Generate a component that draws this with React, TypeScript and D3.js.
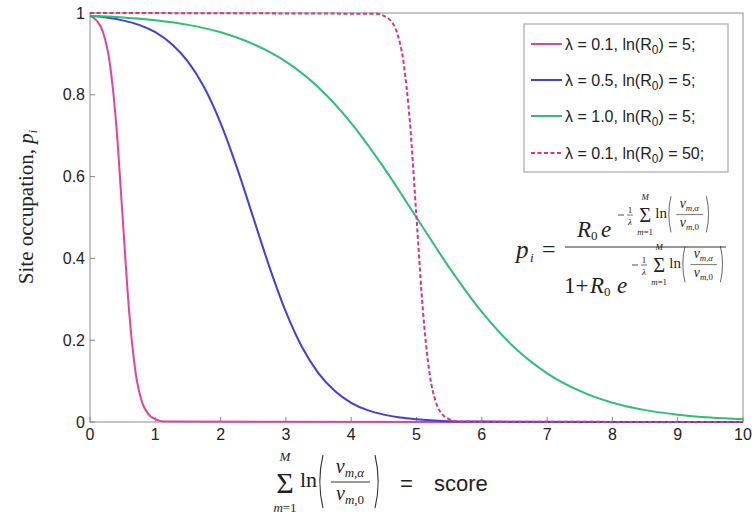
import React from 'react';
import * as d3 from 'd3';

// Score axis samples and site-occupation values for each curve
const scoreSteep = [0, 0.1, 0.2, 0.3, 0.4, 0.5, 0.6, 0.7, 0.8, 0.9, 1.0, 1.1, 1.2, 10];
const occLam01R5 = [0.993, 0.982, 0.953, 0.881, 0.731, 0.5, 0.269, 0.119, 0.047, 0.018, 0.007, 0.002, 0.001, 0];

const scoreMid = [0, 0.25, 0.5, 0.75, 1.0, 1.25, 1.5, 1.75, 2.0, 2.25, 2.5, 2.75, 3.0, 3.25, 3.5, 3.75, 4.0, 4.25, 4.5, 4.75, 5.0, 5.5, 6.0, 10];
const occLam05R5 = [0.993, 0.989, 0.982, 0.971, 0.953, 0.924, 0.881, 0.818, 0.731, 0.622, 0.5, 0.378, 0.269, 0.182, 0.119, 0.076, 0.047, 0.029, 0.018, 0.011, 0.007, 0.002, 0.001, 0];

const scoreWide = [0, 0.5, 1, 1.5, 2, 2.5, 3, 3.5, 4, 4.5, 5, 5.5, 6, 6.5, 7, 7.5, 8, 8.5, 9, 9.5, 10];
const occLam10R5 = [0.993, 0.989, 0.982, 0.971, 0.953, 0.924, 0.881, 0.818, 0.731, 0.622, 0.5, 0.378, 0.269, 0.182, 0.119, 0.076, 0.047, 0.029, 0.018, 0.011, 0.007];

const scoreShift = [0, 4.4, 4.5, 4.6, 4.7, 4.8, 4.9, 5.0, 5.1, 5.2, 5.3, 5.4, 5.5, 5.6, 5.7, 10];
const occLam01R50 = [1, 0.998, 0.993, 0.982, 0.953, 0.881, 0.731, 0.5, 0.269, 0.119, 0.047, 0.018, 0.007, 0.002, 0.001, 0];

const xTickValues = [0, 1, 2, 3, 4, 5, 6, 7, 8, 9, 10];
const yTickValues = [0, 0.2, 0.4, 0.6, 0.8, 1];
const yTickLabels = ['0', '0.2', '0.4', '0.6', '0.8', '1'];

const legendLambda = ['0.1', '0.5', '1.0', '0.1'];
const legendLnR0 = ['5', '5', '5', '50'];

const W = 755;
const H = 518;
const plot = { left: 90, right: 743, top: 13, bottom: 422 };

const SANS = "Arial, 'Liberation Sans', Helvetica, sans-serif";
const SERIF = "'Times New Roman', 'Liberation Serif', serif";

const series = [
  { xs: scoreSteep, ys: occLam01R5, color: '#e8409a', dash: null },
  { xs: scoreMid, ys: occLam05R5, color: '#3f3fe0', dash: null },
  { xs: scoreWide, ys: occLam10R5, color: '#2fbf70', dash: null },
  { xs: scoreShift, ys: occLam01R50, color: '#de3088', dash: '4 2.5' },
];

// Parenthesis drawn as a curved path
function Paren({ x, top, bottom, right, w }: { x: number; top: number; bottom: number; right?: boolean; w: number }) {
  const mid = (top + bottom) / 2;
  const d = right
    ? `M${x},${top} Q${x + w * 1.6},${mid} ${x},${bottom}`
    : `M${x},${top} Q${x - w * 1.6},${mid} ${x},${bottom}`;
  return <path d={d} fill="none" stroke="#333" strokeWidth={1.1} />;
}

// Sum over m of ln(v_{m,alpha} / v_{m,0}), with origin at left of the sigma, y = ln baseline
function SumLn({ x, y, k }: { x: number; y: number; k: number }) {
  return (
    <g transform={`translate(${x},${y}) scale(${k})`} fontFamily={SERIF} fill="#222">
      <text x={12} y={6} fontSize={30} textAnchor="middle">Σ</text>
      <text x={12} y={-26} fontSize={13} fontStyle="italic" textAnchor="middle">M</text>
      <text x={12} y={25} fontSize={13} textAnchor="middle">
        <tspan fontStyle="italic">m</tspan>=1
      </text>
      <text x={27} y={0} fontSize={22}>ln</text>
      <Paren x={50} top={-32} bottom={21} w={4} />
      <text x={77} y={-14} fontSize={20} textAnchor="middle">
        <tspan fontStyle="italic">v</tspan>
        <tspan fontSize={13} dy={4} fontStyle="italic">m</tspan>
        <tspan fontSize={13}>,</tspan>
        <tspan fontSize={13} fontStyle="italic">α</tspan>
      </text>
      <line x1={58} x2={97} y1={-5} y2={-5} stroke="#333" strokeWidth={1} />
      <text x={77} y={13} fontSize={20} textAnchor="middle">
        <tspan fontStyle="italic">v</tspan>
        <tspan fontSize={13} dy={4} fontStyle="italic">m</tspan>
        <tspan fontSize={13}>,0</tspan>
      </text>
      <Paren x={102} top={-32} bottom={21} w={4} right />
    </g>
  );
}

// Exponent: -(1/lambda) * SumLn
function Exponent({ x, y }: { x: number; y: number }) {
  return (
    <g fontFamily={SERIF} fill="#222">
      <line x1={x - 19} x2={x - 13} y1={y - 3} y2={y - 3} stroke="#333" strokeWidth={0.9} />
      <text x={x - 7} y={y - 5} fontSize={9} textAnchor="middle">1</text>
      <line x1={x - 10} x2={x - 4} y1={y - 3} y2={y - 3} stroke="#333" strokeWidth={0.7} />
      <text x={x - 7} y={y + 6.5} fontSize={9} fontStyle="italic" textAnchor="middle">λ</text>
      <SumLn x={x} y={y} k={0.68} />
    </g>
  );
}

export default function App() {
  const x = d3.scaleLinear().domain([0, 10]).range([plot.left, plot.right]);
  const y = d3.scaleLinear().domain([0, 1]).range([plot.bottom, plot.top]);

  const lineGen = (xs: number[], ys: number[]) =>
    d3
      .line<number>()
      .x((_, i) => x(xs[i]))
      .y((v) => y(v))
      .curve(d3.curveMonotoneX)(ys) as string;

  const legendX = 524;
  const legendY = 24;
  const legendW = 204;
  const legendH = 148;
  const rowY = [44, 80, 116, 153];

  return (
    <svg
      width={W}
      height={H}
      style={{ position: 'absolute', left: 0, top: 0, background: '#fff' }}
    >
      <rect x={0} y={0} width={W} height={H} fill="#fff" />

      {/* axes box */}
      <rect
        x={plot.left}
        y={plot.top}
        width={plot.right - plot.left}
        height={plot.bottom - plot.top}
        fill="none"
        stroke="#a8a8a8"
        strokeWidth={1.3}
      />

      {/* ticks */}
      {xTickValues.map((t) => (
        <line key={'xt' + t} x1={x(t)} x2={x(t)} y1={plot.bottom} y2={plot.bottom - 5} stroke="#888" strokeWidth={1} />
      ))}
      {yTickValues.map((t) => (
        <line key={'yt' + t} x1={plot.left} x2={plot.left + 5} y1={y(t)} y2={y(t)} stroke="#888" strokeWidth={1} />
      ))}

      {/* tick labels */}
      {xTickValues.map((t) => (
        <text key={'xl' + t} x={x(t)} y={440} fontSize={16} fontFamily={SANS} fill="#222" textAnchor="middle">
          {t}
        </text>
      ))}
      {yTickValues.map((t, i) => (
        <text key={'yl' + t} x={85} y={y(t) + 5.5} fontSize={16} fontFamily={SANS} fill="#222" textAnchor="end">
          {yTickLabels[i]}
        </text>
      ))}

      {/* curves */}
      {series.map((s, i) => (
        <path
          key={'c' + i}
          d={lineGen(s.xs, s.ys)}
          fill="none"
          stroke={s.color}
          strokeWidth={2}
          strokeDasharray={s.dash ?? undefined}
        />
      ))}

      {/* legend */}
      <rect x={legendX} y={legendY} width={legendW} height={legendH} fill="#fff" stroke="#a8a8a8" strokeWidth={1.2} />
      {series.map((s, i) => (
        <g key={'lg' + i}>
          <line
            x1={531}
            x2={562}
            y1={rowY[i]}
            y2={rowY[i]}
            stroke={s.color}
            strokeWidth={2}
            strokeDasharray={s.dash ?? undefined}
          />
          <text x={565} y={rowY[i] + 5.5} fontSize={16} fontFamily={SANS} fill="#222">
            λ = {legendLambda[i]}, ln(R
            <tspan fontSize={12} dy={4}>0</tspan>
            <tspan dy={-4}>) = {legendLnR0[i]};</tspan>
          </text>
        </g>
      ))}

      {/* occupation formula */}
      <g fontFamily={SERIF} fill="#222">
        <text x={516} y={258} fontSize={25} fontStyle="italic">p</text>
        <text x={530} y={262} fontSize={13} fontStyle="italic">i</text>
        <text x={542} y={257} fontSize={24}>=</text>
        <line x1={565} x2={726} y1={247} y2={247} stroke="#333" strokeWidth={1.1} />
        <text x={577} y={237} fontSize={23} fontStyle="italic">R</text>
        <text x={591} y={240} fontSize={13}>0</text>
        <text x={601} y={237} fontSize={23} fontStyle="italic">e</text>
        <Exponent x={637} y={218} />
        <text x={564} y={293} fontSize={23}>1+</text>
        <text x={590} y={293} fontSize={23} fontStyle="italic">R</text>
        <text x={604} y={296} fontSize={13}>0</text>
        <text x={617} y={293} fontSize={23} fontStyle="italic">e</text>
        <Exponent x={651} y={268} />
      </g>

      {/* x axis title */}
      <SumLn x={273} y={487} k={1} />
      <text x={400} y={491} fontSize={22} fontFamily={SANS} fill="#222">=</text>
      <text x={434} y={491} fontSize={22} fontFamily={SANS} fill="#222">score</text>

      {/* y axis title */}
      <text
        transform="translate(33,207) rotate(-90)"
        fontSize={21}
        fontFamily={SERIF}
        fill="#222"
        textAnchor="middle"
      >
        Site occupation, <tspan fontStyle="italic">p</tspan>
        <tspan fontStyle="italic" fontSize={12} dy={4}>i</tspan>
      </text>
    </svg>
  );
}
